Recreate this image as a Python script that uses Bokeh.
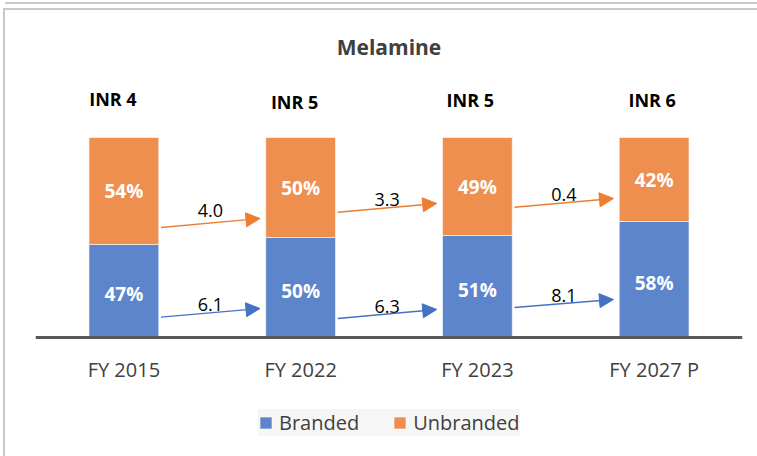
from bokeh.plotting import figure
from bokeh.models import Range1d, FixedTicker, Arrow, NormalHead, Legend, LegendItem, ColumnDataSource
from bokeh.core.properties import value
from bokeh.embed import file_html
from bokeh.resources import INLINE

# ---------------- data ----------------
categories = ["FY 2015", "FY 2022", "FY 2023", "FY 2027 P"]
branded = [47, 50, 51, 58]          # % share
unbranded = [54, 50, 49, 42]        # % share
market_inr = [4, 5, 5, 6]           # market size label (INR)
cagr_branded = [6.1, 6.3, 8.1]      # growth between consecutive periods
cagr_unbranded = [4.0, 3.3, 0.4]

# ---------------- layout / style constants ----------------
FONT = "Open Sans"
BLUE_BAR, ORANGE_BAR = "#5d85cc", "#ef8f4f"
BLUE_LINE, ORANGE_LINE = "#4472c4", "#ed7d31"
TEXT_GREY = "#404040"
BAR_WIDTH = 0.395
INR_DX = [-0.062, -0.034, -0.04, -0.011]
INR_Y = [119.5, 117.8, 118.8, 118.8]
ORANGE_Y0, ORANGE_Y1 = [55, 62.6, 65.1], [59.5, 67.0, 69.5]
BLUE_Y0, BLUE_Y1 = [10.2, 9.5, 15.0], [14.5, 14.0, 19.0]
ORANGE_LABEL_DY = [6.3, 4.0, 4.3]
BLUE_LABEL_DY = [4.0, 4.0, 4.0]
ARROW_X0, ARROW_X1 = 0.21, 0.77

x = list(range(len(categories)))
totals = [b + u for b, u in zip(branded, unbranded)]
b_share = [b / t * 100 for b, t in zip(branded, totals)]
u_share = [u / t * 100 for u, t in zip(unbranded, totals)]

# frame: 65px .. 446px (canvas), 2 px per % -> baseline (0) at 327px
p = figure(width=752, height=446,
           x_range=Range1d(-0.5, 3.5), y_range=Range1d(-59.5, 131),
           output_backend="svg", toolbar_location=None, y_axis_location=None,
           min_border_left=30, min_border_right=15, min_border_top=65, min_border_bottom=0,
           margin=(10, 0, 0, 5),
           styles={"outline": "2px solid #c9c9c9",
                   "box-shadow": "0 -6px 0 0 #ffffff, 0 -8px 0 0 #c9c9c9"})
p.outline_line_color = None
p.xgrid.visible = False
p.ygrid.visible = False
p.background_fill_color = "white"
p.border_fill_color = "white"

# title
p.title.text = "Melamine"
p.title.align = "center"
p.title.text_font = FONT
p.title.text_font_size = "21px"
p.title.text_font_style = "bold"
p.title.text_color = TEXT_GREY
p.title.standoff = 30

# bars
src = ColumnDataSource(dict(x=x, branded=b_share, unbranded=u_share))
bars = p.vbar_stack(["branded", "unbranded"], x="x", width=BAR_WIDTH, source=src,
                    fill_color=[BLUE_BAR, ORANGE_BAR], line_color="white",
                    line_alpha=0.6, line_width=1)

# % labels inside bars
b_mid = [s / 2 - 1.5 for s in b_share]
u_mid = [b + u / 2 for b, u in zip(b_share, u_share)]
p.text(x=x + x, y=b_mid + u_mid,
       text=[f"{v}%" for v in branded] + [f"{v}%" for v in unbranded],
       text_font=value(FONT), text_font_style="bold", text_font_size="19px",
       text_color="white", text_align="center", text_baseline="middle")

# INR labels above bars
p.text(x=[xi + d for xi, d in zip(x, INR_DX)], y=INR_Y,
       text=[f"INR {v}" for v in market_inr],
       text_font=value(FONT), text_font_style="bold", text_font_size="18px",
       text_color="black", text_align="center", text_baseline="middle")

# growth arrows
lab_x, lab_y, lab_t = [], [], []
for i in range(len(cagr_branded)):
    for y0, y1, col, val, dy in ((ORANGE_Y0[i], ORANGE_Y1[i], ORANGE_LINE, cagr_unbranded[i], ORANGE_LABEL_DY[i]),
                                 (BLUE_Y0[i], BLUE_Y1[i], BLUE_LINE, cagr_branded[i], BLUE_LABEL_DY[i])):
        p.add_layout(Arrow(x_start=x[i] + ARROW_X0, y_start=y0,
                           x_end=x[i] + ARROW_X1, y_end=y1,
                           line_color=col, line_width=1.4,
                           end=NormalHead(size=14, fill_color=col, line_color=col)))
        lab_x.append(x[i] + 0.49)
        lab_y.append((y0 + y1) / 2 + dy)
        lab_t.append(f"{val:.1f}")
p.text(x=lab_x, y=lab_y, text=lab_t, text_font=value(FONT), text_font_size="18px",
       text_color="black", text_align="center", text_baseline="middle")

# x axis, fixed at the bars' baseline
ax = p.xaxis[0]
ax.fixed_location = 0
ax.ticker = FixedTicker(ticks=x)
ax.major_label_overrides = {i: c for i, c in zip(x, categories)}
ax.axis_line_color = "#595959"
ax.axis_line_width = 3
ax.major_tick_line_color = None
ax.minor_tick_line_color = None
ax.major_tick_out = 0
ax.major_tick_in = 0
ax.major_label_standoff = 18
ax.major_label_text_font = FONT
ax.major_label_text_font_size = "20px"
ax.major_label_text_color = TEXT_GREY

# legend below the axis (inside the frame)
legend = Legend(items=[LegendItem(label="Branded", renderers=[bars[0]]),
                       LegendItem(label="Unbranded", renderers=[bars[1]])],
                orientation="horizontal", location=(223, 20),
                glyph_width=15, glyph_height=15, label_standoff=6, spacing=33,
                padding=10, margin=0,
                label_text_font=FONT, label_text_font_size="20px",
                label_text_color=TEXT_GREY,
                background_fill_color="#f6f6f6", background_fill_alpha=1,
                border_line_color=None)
p.add_layout(legend)

open("out.html", "w").write(file_html(p, INLINE))
